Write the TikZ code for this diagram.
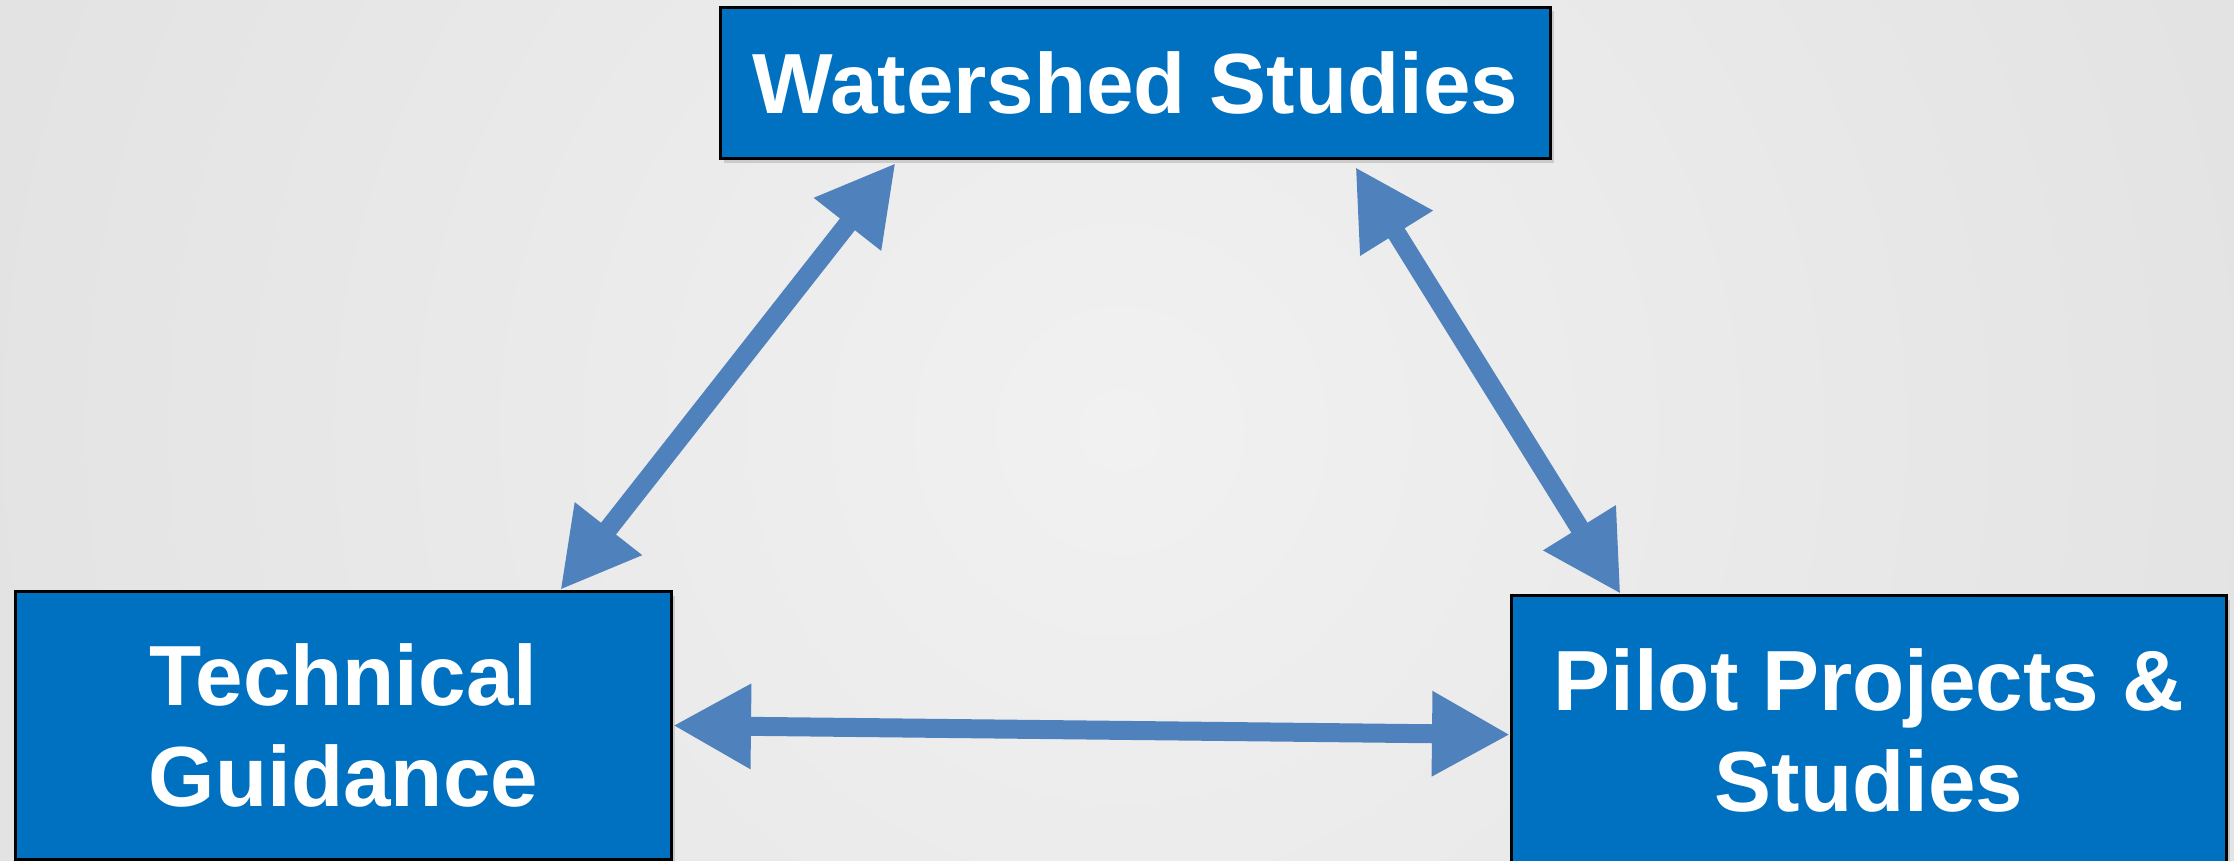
\documentclass[tikz,border=0pt]{standalone}
\usepackage{fontspec}
\setmainfont{Liberation Sans}
\usetikzlibrary{arrows.meta,calc,shadows}
\definecolor{boxblue}{HTML}{0070C0}
\definecolor{arrowblue}{HTML}{4F81BD}
\definecolor{bginner}{HTML}{F1F1F1}
\definecolor{bgouter}{HTML}{D4D4D4}
\begin{document}
\begin{tikzpicture}[
  box/.style={draw=black, line width=0.03cm, fill=boxblue, text=white,
    font=\fontsize{24.3}{28.5}\selectfont\bfseries, align=center,
    anchor=north west, inner sep=0pt,
    drop shadow={shadow xshift=0.03cm, shadow yshift=-0.04cm, opacity=0.3}},
  link/.style={draw=arrowblue, line width=0.19cm,
    {Triangle[length=0.78cm,width=0.8cm]}-{Triangle[length=0.78cm,width=0.8cm]},
    preaction={draw=black, opacity=0.15, transform canvas={shift={(0.03cm,-0.04cm)}}}}
]
\useasboundingbox (0,0) rectangle (22.34,-8.6);
\begin{scope}
  \clip (0,0) rectangle (22.34,-8.6);
  \shade[inner color=bginner, outer color=bgouter] (11.2,-4.3) circle (24);
\end{scope}

\node[box, minimum width=8.30cm, minimum height=1.51cm] (ws) at (7.19,-0.06) {Watershed Studies};
\node[box, minimum width=6.56cm, minimum height=2.68cm] (tg) at (0.14,-5.90) {Technical\\Guidance};
\node[box, minimum width=7.15cm, minimum height=2.70cm] (pp) at (15.10,-5.94) {Pilot Projects \&\\Studies};

\coordinate (w1) at ($(ws.south west)!0.212!(ws.south east)+(0,-0.03)$);
\coordinate (w2) at ($(ws.south west)!0.764!(ws.south east)+(0,-0.07)$);
\coordinate (t1) at ($(tg.north west)!0.829!(tg.north east)$);
\coordinate (t2) at ($(tg.north east)!0.5!(tg.south east)$);
\coordinate (p1) at ($(pp.north west)!0.154!(pp.north east)$);
\coordinate (p2) at ($(pp.north west)!0.515!(pp.south west)$);

\draw[link] (w1) -- (t1);
\draw[link] (w2) -- (p1);
\draw[link] (t2) -- (p2);
\end{tikzpicture}
\end{document}
